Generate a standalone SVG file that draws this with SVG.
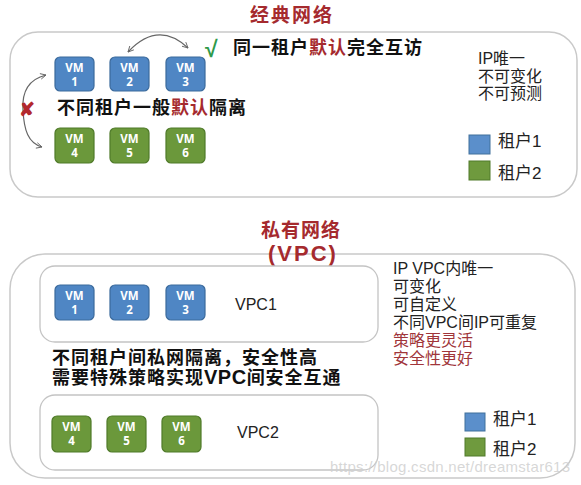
<svg xmlns="http://www.w3.org/2000/svg" width="581" height="485" viewBox="0 0 581 485">
<defs>
<marker id="ah" viewBox="0 0 10 10" refX="9" refY="5" markerWidth="7" markerHeight="7" orient="auto-start-reverse" markerUnits="userSpaceOnUse">
<path d="M1,1 L9,5 L1,9" fill="none" stroke="#666" stroke-width="1.3"/>
</marker>
</defs>
<style>
text{font-family:"Liberation Sans","Noto Sans CJK SC",sans-serif}
.frame{fill:#fff;stroke:#c9c9c9;stroke-width:1.5}
.vpc{fill:#fff;stroke:#c4c4c4;stroke-width:1.3}
.b{fill:#4f86c4;stroke:#3b6a9c;stroke-width:1.2}
.g{fill:#6b983b;stroke:#4f7a29;stroke-width:1.2}
.vt{fill:#fff;font-family:"Open Sans","Liberation Sans",sans-serif;font-weight:700;font-size:11.5px;text-anchor:middle}
.title{fill:#a52a2e;font-weight:700;font-size:19px;text-anchor:middle}
.big{fill:#111;font-weight:700;font-size:18px;letter-spacing:1px}
.red{fill:#a52a2e}
.note{fill:#222;font-size:16px}
.rnote{fill:#a0353a}
.lg{fill:#222;font-size:17px}
.conn{fill:none;stroke:#666;stroke-width:1.2}
</style>
<rect width="581" height="485" fill="#fff"/>

<!-- top frame -->
<rect class="frame" x="10" y="32" width="567" height="165" rx="28"/>
<text class="title" x="292" y="22" letter-spacing="2">经典网络</text>

<g id="vm1"><rect class="b" x="55" y="57" width="39" height="34" rx="5"/><text class="vt" x="74.5" y="72">VM<tspan x="74.5" dy="14">1</tspan></text></g>
<g id="vm2"><rect class="b" x="110" y="57" width="39" height="34" rx="5"/><text class="vt" x="129.5" y="72">VM<tspan x="129.5" dy="14">2</tspan></text></g>
<g id="vm3"><rect class="b" x="166" y="57" width="39" height="34" rx="5"/><text class="vt" x="185.5" y="72">VM<tspan x="185.5" dy="14">3</tspan></text></g>
<g id="vm4"><rect class="g" x="55" y="128" width="39" height="35" rx="5"/><text class="vt" x="74.5" y="143">VM<tspan x="74.5" dy="14">4</tspan></text></g>
<g id="vm5"><rect class="g" x="110" y="128" width="39" height="35" rx="5"/><text class="vt" x="129.5" y="143">VM<tspan x="129.5" dy="14">5</tspan></text></g>
<g id="vm6"><rect class="g" x="166" y="128" width="39" height="35" rx="5"/><text class="vt" x="185.5" y="143">VM<tspan x="185.5" dy="14">6</tspan></text></g>

<g id="connectors">
<path class="conn" d="M128,52 Q158,20 188,48" marker-start="url(#ah)" marker-end="url(#ah)"/>
<path class="conn" d="M46,75 C26,80 22,96 23,110 C24,130 28,143 42,147" marker-start="url(#ah)" marker-end="url(#ah)"/>
</g>

<text x="205" y="57" fill="#2f9a4a" font-size="23" font-weight="700" font-family="DejaVu Sans, sans-serif">√</text>
<text class="big" x="233" y="53.5">同一租户<tspan class="red">默认</tspan>完全互访</text>
<text x="19" y="116" fill="#b3282d" font-size="19" font-weight="700" font-family="DejaVu Sans, sans-serif">✘</text>
<text class="big" x="57" y="114">不同租户一般<tspan class="red">默认</tspan>隔离</text>

<text class="note" x="478" y="64">IP唯一<tspan x="478" dy="18">不可变化</tspan><tspan x="478" dy="17">不可预测</tspan></text>

<g id="legend1">
<rect x="469" y="135" width="21" height="19" fill="#5b8fcb" stroke="#41719c" stroke-width="1"/>
<rect x="469" y="161" width="21" height="19" fill="#6f9a3e" stroke="#507a2a" stroke-width="1"/>
<text class="lg" x="498" y="147">租户1<tspan x="498" dy="32">租户2</tspan></text>
</g>

<!-- bottom frame -->
<rect class="frame" x="10" y="254" width="565" height="224" rx="35"/>
<text class="title" x="301" y="236.5" letter-spacing="1">私有网络<tspan x="303" dy="24.5" font-size="22" letter-spacing="2">(VPC)</tspan></text>

<g id="vpc1"><rect class="vpc" x="40" y="266" width="338" height="76" rx="15"/><text class="note" x="235" y="310">VPC1</text></g>
<g id="vpc1-vm1"><rect class="b" x="55" y="285" width="39" height="35" rx="5"/><text class="vt" x="74.5" y="300">VM<tspan x="74.5" dy="14">1</tspan></text></g>
<g id="vpc1-vm2"><rect class="b" x="110" y="285" width="39" height="35" rx="5"/><text class="vt" x="129.5" y="300">VM<tspan x="129.5" dy="14">2</tspan></text></g>
<g id="vpc1-vm3"><rect class="b" x="166" y="285" width="39" height="35" rx="5"/><text class="vt" x="185.5" y="300">VM<tspan x="185.5" dy="14">3</tspan></text></g>

<text class="big" x="52" y="364">不同租户间私网隔离，安全性高<tspan x="52" dy="20">需要特殊策略实现</tspan><tspan font-size="20" letter-spacing="0.5">VPC</tspan>间安全互通</text>

<g id="vpc2"><rect class="vpc" x="40" y="395" width="338" height="75" rx="15"/><text class="note" x="237" y="438">VPC2</text></g>
<g id="vpc2-vm4"><rect class="g" x="52" y="416" width="39" height="36" rx="5"/><text class="vt" x="71.5" y="431">VM<tspan x="71.5" dy="14">4</tspan></text></g>
<g id="vpc2-vm5"><rect class="g" x="107" y="416" width="39" height="36" rx="5"/><text class="vt" x="126.5" y="431">VM<tspan x="126.5" dy="14">5</tspan></text></g>
<g id="vpc2-vm6"><rect class="g" x="162" y="416" width="39" height="36" rx="5"/><text class="vt" x="181.5" y="431">VM<tspan x="181.5" dy="14">6</tspan></text></g>

<text class="note" x="393" y="274">IP VPC内唯一<tspan x="393" dy="18">可变化</tspan><tspan x="393" dy="18">可自定义</tspan><tspan x="393" dy="18">不同VPC间IP可重复</tspan><tspan class="rnote" x="393" dy="18">策略更灵活</tspan><tspan class="rnote" x="393" dy="18">安全性更好</tspan></text>

<g id="legend2">
<rect x="465" y="413" width="20" height="18" fill="#5b8fcb" stroke="#41719c" stroke-width="1"/>
<rect x="465" y="438" width="20" height="18" fill="#6f9a3e" stroke="#507a2a" stroke-width="1"/>
<text class="lg" x="493" y="425">租户1<tspan x="493" dy="29.5">租户2</tspan></text>
</g>

<text x="330" y="472" fill="#d0d0d0" fill-opacity="0.85" font-size="15" textLength="240">https://blog.csdn.net/dreamstar613</text>
</svg>
